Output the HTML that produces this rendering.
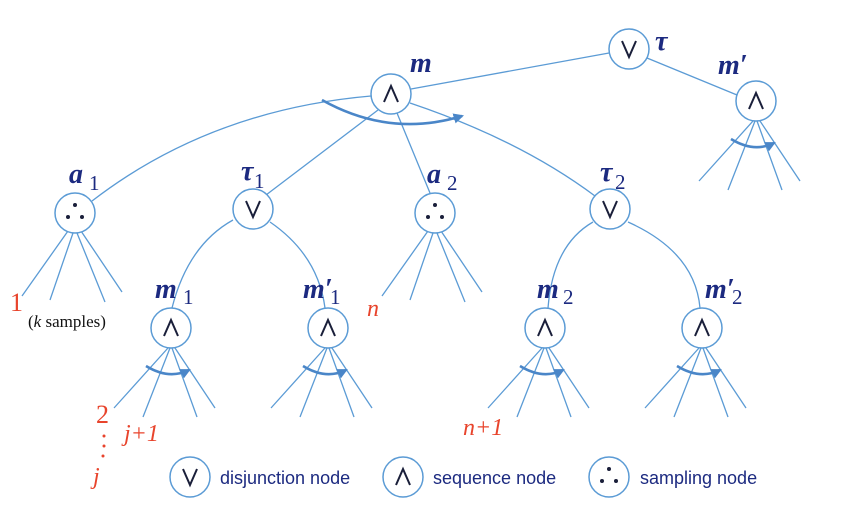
<!DOCTYPE html>
<html><head><meta charset="utf-8"><style>
html,body{margin:0;padding:0;background:#fff;width:844px;height:526px;overflow:hidden}
svg{display:block}
.n{fill:#fff;stroke:#5b9bd5;stroke-width:1.5}
.e{fill:none;stroke:#5b9bd5;stroke-width:1.3}
.a{fill:none;stroke:#4a86c8;stroke-width:2.6}
.v{fill:none;stroke:#1a1f3a;stroke-width:2}
.lb{font-family:"Liberation Serif",serif;font-style:italic;font-weight:bold;fill:#1c2a80;font-size:28px}
.sb{font-family:"Liberation Serif",serif;fill:#1c2a80;font-size:21px}
.r{font-family:"Liberation Serif",serif;fill:#e8442c;font-size:26px}
.ri{font-family:"Liberation Serif",serif;font-style:italic;fill:#e8442c;font-size:24px}
.lg{font-family:"Liberation Sans",sans-serif;fill:#1c2a80;font-size:18px}
</style></head><body>
<svg width="844" height="526" viewBox="0 0 844 526" xmlns="http://www.w3.org/2000/svg">
<defs>
<marker id="ah" viewBox="0 0 10 10" refX="8" refY="5" markerWidth="4" markerHeight="4" orient="auto"><path d="M0,0 L10,5 L0,10 z" fill="#4a86c8"/></marker>
<g id="fan">
<line class="e" x1="-3" y1="20" x2="-57" y2="80"/>
<line class="e" x1="-1" y1="20" x2="-28" y2="89"/>
<line class="e" x1="1" y1="20" x2="26" y2="89"/>
<line class="e" x1="4" y1="20" x2="44" y2="80"/>
</g>
<g id="sfan">
<path class="a" d="M-25,38 Q-2,52 18,42" marker-end="url(#ah)"/>
</g>
<polyline id="or" class="v" points="-7,-8 0,8 7,-8"/>
<polyline id="and" class="v" points="-7,8 0,-8 7,8"/>
</defs>
<!-- edges -->
<line class="e" x1="609" y1="53" x2="411" y2="89"/>
<line class="e" x1="647" y1="58" x2="737" y2="95"/>
<path class="e" d="M371,96 Q210,110 92,201"/>
<line class="e" x1="378" y1="110" x2="266" y2="195"/>
<line class="e" x1="397" y1="113" x2="430" y2="193"/>
<path class="e" d="M410,103 Q520,140 595,196"/>
<path class="a" d="M322,100 Q390,138 462,116" marker-end="url(#ah)"/>
<path class="e" d="M233,220 Q188,245 172,308"/>
<path class="e" d="M270,222 Q318,255 325,308"/>
<path class="e" d="M593,222 Q553,245 548,308"/>
<path class="e" d="M628,222 Q695,252 700,308"/>
<!-- fans -->
<g transform="translate(75,213)"><line class="e" x1="-7" y1="18" x2="-53" y2="83"/><line class="e" x1="-2" y1="20" x2="-25" y2="87"/><line class="e" x1="2" y1="20" x2="30" y2="89"/><line class="e" x1="6" y1="18" x2="47" y2="79"/></g>
<g transform="translate(435,213)"><line class="e" x1="-7" y1="18" x2="-53" y2="83"/><line class="e" x1="-2" y1="20" x2="-25" y2="87"/><line class="e" x1="2" y1="20" x2="30" y2="89"/><line class="e" x1="6" y1="18" x2="47" y2="79"/></g>
<g transform="translate(756,101)"><use href="#fan"/><use href="#sfan"/></g>
<g transform="translate(171,328)"><use href="#fan"/><use href="#sfan"/></g>
<g transform="translate(328,328)"><use href="#fan"/><use href="#sfan"/></g>
<g transform="translate(545,328)"><use href="#fan"/><use href="#sfan"/></g>
<g transform="translate(702,328)"><use href="#fan"/><use href="#sfan"/></g>
<!-- nodes -->
<circle class="n" cx="629" cy="49" r="20"/><use href="#or" x="629" y="49"/>
<circle class="n" cx="391" cy="94" r="20"/><use href="#and" x="391" y="94"/>
<circle class="n" cx="756" cy="101" r="20"/><use href="#and" x="756" y="101"/>
<circle class="n" cx="75" cy="213" r="20"/>
<circle class="n" cx="253" cy="209" r="20"/><use href="#or" x="253" y="209"/>
<circle class="n" cx="435" cy="213" r="20"/>
<circle class="n" cx="610" cy="209" r="20"/><use href="#or" x="610" y="209"/>
<circle class="n" cx="171" cy="328" r="20"/><use href="#and" x="171" y="328"/>
<circle class="n" cx="328" cy="328" r="20"/><use href="#and" x="328" y="328"/>
<circle class="n" cx="545" cy="328" r="20"/><use href="#and" x="545" y="328"/>
<circle class="n" cx="702" cy="328" r="20"/><use href="#and" x="702" y="328"/>
<g fill="#1a1f3a"><circle cx="75" cy="205" r="2"/><circle cx="68" cy="217" r="2"/><circle cx="82" cy="217" r="2"/>
<circle cx="435" cy="205" r="2"/><circle cx="428" cy="217" r="2"/><circle cx="442" cy="217" r="2"/></g>
<!-- labels -->
<text class="lb" x="410" y="72">m</text>
<text class="lb" x="655" y="50">τ</text>
<text class="lb" x="718" y="74">m′</text>
<text class="lb" x="69" y="183">a</text><text class="sb" x="89" y="190">1</text>
<text class="lb" x="241" y="180">τ</text><text class="sb" x="254" y="188">1</text>
<text class="lb" x="427" y="183">a</text><text class="sb" x="447" y="190">2</text>
<text class="lb" x="600" y="181">τ</text><text class="sb" x="615" y="189" fill="#111">2</text>
<text class="lb" x="155" y="298">m</text><text class="sb" x="183" y="304">1</text>
<text class="lb" x="303" y="298">m′</text><text class="sb" x="330" y="304">1</text>
<text class="lb" x="537" y="298">m</text><text class="sb" x="563" y="304">2</text>
<text class="lb" x="705" y="298">m′</text><text class="sb" x="732" y="304">2</text>
<!-- red labels -->
<text class="r" x="10" y="311">1</text>
<text x="28" y="327" font-family="Liberation Serif,serif" font-size="17" fill="#111">(<tspan font-style="italic">k</tspan> samples)</text>
<text class="ri" x="367" y="316">n</text>
<text class="r" x="96" y="423">2</text>
<g fill="#e8442c"><circle cx="104" cy="436" r="1.5"/><circle cx="104" cy="446" r="1.5"/><circle cx="103" cy="456" r="1.5"/></g>
<text class="ri" x="93" y="484">j</text>
<text class="ri" x="124" y="441" font-size="22">j+1</text>
<text class="ri" x="463" y="435" font-size="22">n+1</text>
<!-- legend -->
<circle class="n" cx="190" cy="477" r="20"/><use href="#or" x="190" y="477"/>
<text class="lg" x="220" y="484">disjunction node</text>
<circle class="n" cx="403" cy="477" r="20"/><use href="#and" x="403" y="477"/>
<text class="lg" x="433" y="484">sequence node</text>
<circle class="n" cx="609" cy="477" r="20"/>
<g fill="#1a1f3a"><circle cx="609" cy="469" r="2"/><circle cx="602" cy="481" r="2"/><circle cx="616" cy="481" r="2"/></g>
<text class="lg" x="640" y="484">sampling node</text>
</svg>
</body></html>
